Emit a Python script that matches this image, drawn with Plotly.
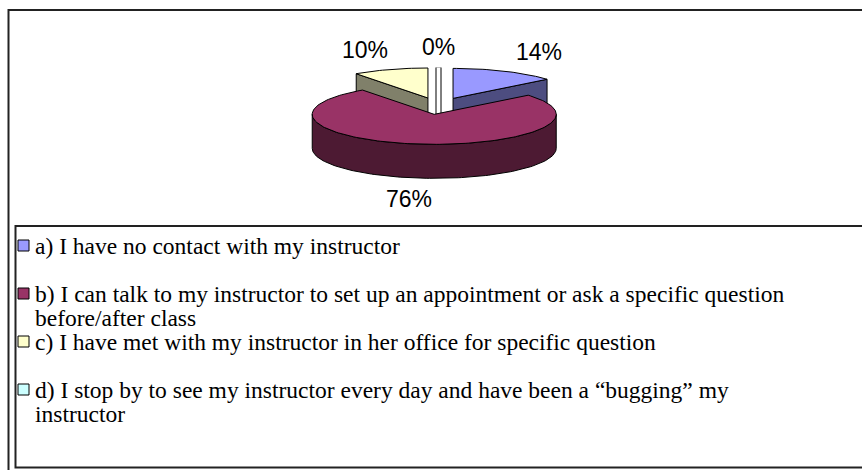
import numpy as np
import plotly.graph_objects as go

# ---------------- data ----------------
categories = [
    "a) I have no contact with my instructor",
    "b) I can talk to my instructor to set up an appointment or ask a specific question\nbefore/after class",
    "c) I have met with my instructor in her office for specific question",
    "d) I stop by to see my instructor every day and have been a \u201cbugging\u201d my\ninstructor",
]
values = [14, 76, 10, 0]
top_colors = ["#9999FF", "#993366", "#FFFFCC", "#CCFFFF"]
side_colors = ["#4D4D80", "#4D1A33", "#80806A", "#668080"]

# ---------------- layout constants (pixels) ----------------
W, H = 862, 470
CX, CY = 438.5, 106.0
RX, RY = 122.0, 30.0
DEPTH = 34.0
EXPLODE = 0.28
LABEL_FX, LABEL_FY = 1.66, 1.70

LEG_X0, LEG_Y0 = 15.5, 226.0
LINE0, LINE_STEP, ITEM_STEP = 245.5, 24.0, 48.0
SQ_X, TXT_X = 23.5, 33.0
LEG_FONT = 23.5

fig = go.Figure()

total = float(sum(values))
starts, ends = [], []
acc = 0.0
for v in values:
    starts.append(acc)
    acc += 360.0 * v / total
    ends.append(acc)


def sx_sy(mid):
    r = np.radians(mid)
    return CX + EXPLODE * RX * np.sin(r), CY - EXPLODE * RY * np.cos(r)


def arc(sx, sy, a1, a2, dz=0.0, n=None):
    if n is None:
        n = max(int(abs(a2 - a1) / 1.5), 2)
    t = np.radians(np.linspace(a1, a2, n))
    return list(sx + RX * np.sin(t)), list(sy - RY * np.cos(t) + dz)


def poly(xs, ys, fill, lw=1, lc="black"):
    fig.add_trace(go.Scatter(
        x=xs + [xs[0]], y=ys + [ys[0]], mode="lines", fill="toself",
        fillcolor=fill, line=dict(color=lc, width=lw),
        hoverinfo="skip", showlegend=False))


# draw order: back slices first (smaller centre y)
mids = [(a + b) / 2 for a, b in zip(starts, ends)]
order = sorted(range(len(values)), key=lambda i: sx_sy(mids[i])[1])

for i in order:
    a1, a2 = starts[i], ends[i]
    mid = mids[i]
    sx, sy = sx_sy(mid)
    if a2 - a1 <= 1e-9:
        # zero slice: seen edge-on
        r = np.radians(a1)
        ex, ey = sx + RX * np.sin(r), sy - RY * np.cos(r)
        xs = [sx, ex, ex, sx]
        ys = [sy, ey, ey + DEPTH, sy + DEPTH]
        fig.add_trace(go.Scatter(x=xs, y=ys, mode="lines",
                                 line=dict(color="black", width=6),
                                 hoverinfo="skip", showlegend=False))
        fig.add_trace(go.Scatter(x=xs, y=ys, mode="lines",
                                 line=dict(color="white", width=4),
                                 hoverinfo="skip", showlegend=False))
        continue
    # radial faces
    for ang, vis in ((a1, np.sin(np.radians(a1)) < -1e-9),
                     (a2, np.sin(np.radians(a2)) > 1e-9)):
        if vis:
            r = np.radians(ang)
            ex, ey = sx + RX * np.sin(r), sy - RY * np.cos(r)
            poly([sx, ex, ex, sx], [sy, ey, ey + DEPTH, sy + DEPTH], side_colors[i])
    # curved outer side (front half only)
    b1, b2 = max(a1, 90.0), min(a2, 270.0)
    if b2 > b1:
        tx, ty = arc(sx, sy, b1, b2)
        bx, by = arc(sx, sy, b2, b1, dz=DEPTH)
        poly(tx + bx, ty + by, side_colors[i])
    # top face
    tx, ty = arc(sx, sy, a1, a2)
    poly([sx] + tx, [sy] + ty, top_colors[i])

# data labels
annotations = []
for i, v in enumerate(values):
    mid = mids[i]
    sx, sy = sx_sy(mid)
    r = np.radians(mid)
    lx = sx + LABEL_FX * RX * np.sin(r)
    ly = sy - LABEL_FY * RY * np.cos(r) + (DEPTH if np.cos(r) < 0 else 0)
    pct = round(100.0 * v / total)
    annotations.append(dict(
        x=lx, y=ly, xref="x", yref="y", text=f"{pct}%", showarrow=False,
        xanchor="center", yanchor="middle",
        font=dict(family="Liberation Sans, Arial, sans-serif", size=23, color="black")))

# legend (custom, Excel-like)
sq_y = []
for i, cat in enumerate(categories):
    lines = cat.split("\n")
    y_first = LINE0 + i * ITEM_STEP
    sq_y.append(y_first)
    for j, line in enumerate(lines):
        annotations.append(dict(
            x=TXT_X, y=y_first + j * LINE_STEP, xref="x", yref="y", text=line,
            showarrow=False, xanchor="left", yanchor="middle",
            font=dict(family="Liberation Serif, Times New Roman, serif",
                      size=LEG_FONT, color="black")))

fig.add_trace(go.Scatter(
    x=[SQ_X] * len(categories), y=sq_y, mode="markers",
    marker=dict(symbol="square", size=11, color=top_colors,
                line=dict(color="black", width=1)),
    hoverinfo="skip", showlegend=False))

shapes = [
    dict(type="rect", xref="x", yref="y", x0=8.5, y0=10, x1=W + 20, y1=H + 20,
         line=dict(color="#222222", width=2), fillcolor="rgba(0,0,0,0)", layer="below"),
    dict(type="rect", xref="x", yref="y", x0=LEG_X0, y0=LEG_Y0, x1=W + 20, y1=467.5,
         line=dict(color="#222222", width=2), fillcolor="rgba(0,0,0,0)", layer="below"),
]

fig.update_layout(
    width=W, height=H, autosize=False,
    margin=dict(l=0, r=0, t=0, b=0),
    paper_bgcolor="white", plot_bgcolor="white",
    showlegend=False,
    xaxis=dict(range=[0, W], visible=False, fixedrange=True),
    yaxis=dict(range=[H, 0], visible=False, fixedrange=True),
    shapes=shapes, annotations=annotations,
)

fig.write_html(
    "out.html",
    config={"displayModeBar": False},
    post_script="document.body.style.margin='0px';document.body.style.overflow='hidden';",
)
